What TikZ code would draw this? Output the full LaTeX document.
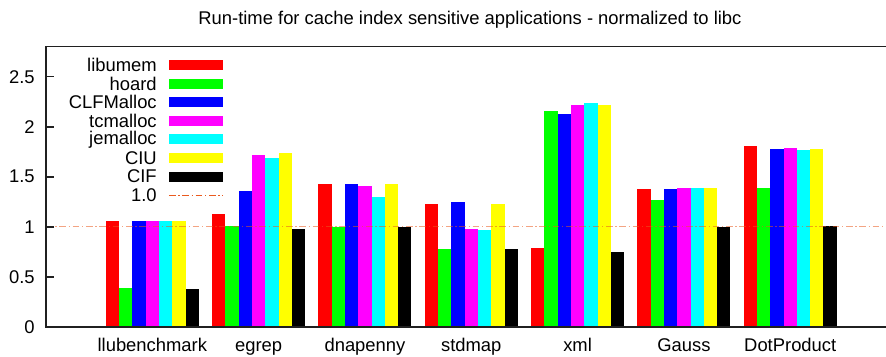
\documentclass[tikz,border=0pt]{standalone}
\usepackage{fontspec}
\setmainfont{Liberation Sans}
\usetikzlibrary{positioning}
\definecolor{ser0}{rgb}{1,0,0}
\definecolor{ser1}{rgb}{0,1,0}
\definecolor{ser2}{rgb}{0,0,1}
\definecolor{ser3}{rgb}{1,0,1}
\definecolor{ser4}{rgb}{0,1,1}
\definecolor{ser5}{rgb}{1,1,0}
\definecolor{ser6}{rgb}{0,0,0}
\definecolor{refline}{HTML}{EA5A1E}
\definecolor{frame}{HTML}{202020}
\tikzset{
	plottext/.style={font=\fontsize{13.8}{16}\selectfont, inner sep=0pt},
	ticklabel/.style={plottext, anchor=east},
	grouplabel/.style={plottext, anchor=base},
	legendlabel/.style={plottext, anchor=east},
	axisline/.style={draw=frame, line width=1.2pt},
	oneline/.style={draw=refline, line width=1pt, dash pattern=on 5pt off 2pt on 1pt off 2pt},
}

\begin{document}
\begin{tikzpicture}[x=9.967pt, y=75pt]
		\useasboundingbox (-3.461,-0.293) rectangle (63.205,3.267);
		
		\node[plottext, anchor=base] (title) at (31.9,3.017) {Run-time for cache index sensitive applications - normalized to libc};
		
		\foreach \name/\vals [count=\i from 0] in {
			llubenchmark/{1.06,0.39,1.06,1.06,1.06,1.06,0.38},
			egrep/{1.13,1.01,1.36,1.72,1.69,1.74,0.98},
			dnapenny/{1.43,1.00,1.43,1.41,1.30,1.43,1.00},
			stdmap/{1.23,0.78,1.25,0.98,0.97,1.23,0.78},
			xml/{0.79,2.16,2.13,2.22,2.24,2.22,0.75},
			Gauss/{1.38,1.27,1.38,1.39,1.39,1.39,1.00},
			DotProduct/{1.81,1.39,1.78,1.79,1.77,1.78,1.01}} {
			\foreach \v [count=\j from 0] in \vals
				\fill[ser\j] ({4.5+8*\i+\j},0) rectangle ({5.5+8*\i+\j},\v);
			\node[grouplabel] (group\i) at ({8+8*\i},-0.243) {\name};
		}
		
		\draw[oneline, draw opacity=0.55] (0,1) -- (63.3,1);
		
		\foreach \t/\lab [count=\k from 0] in {0/0,0.5/0.5,1/1,1.5/1.5,2/2,2.5/2.5} {
			\draw[axisline] (0,\t) -- (0.6,\t);
			\node[ticklabel] (tick\k) at (-0.83,\t) {\lab};
		}
		
		\foreach \lab [count=\j from 0] in {libumem,hoard,CLFMalloc,tcmalloc,jemalloc,CIU,CIF} {
			\node[legendlabel] (key\j) at (8.35,{2.617-0.186*\j}) {\lab};
			\fill[ser\j] (9.255,{2.567-0.186*\j}) rectangle (13.318,{2.667-0.186*\j});
		}
		\node[legendlabel] (key7) at (8.35,1.315) {1.0};
		\draw[oneline] (9.255,1.315) -- (13.318,1.315);
		
		\draw[axisline] (63.3,2.8) -- (0,2.8) -- (0,0) -- (63.3,0);
	\end{tikzpicture}
\end{document}
